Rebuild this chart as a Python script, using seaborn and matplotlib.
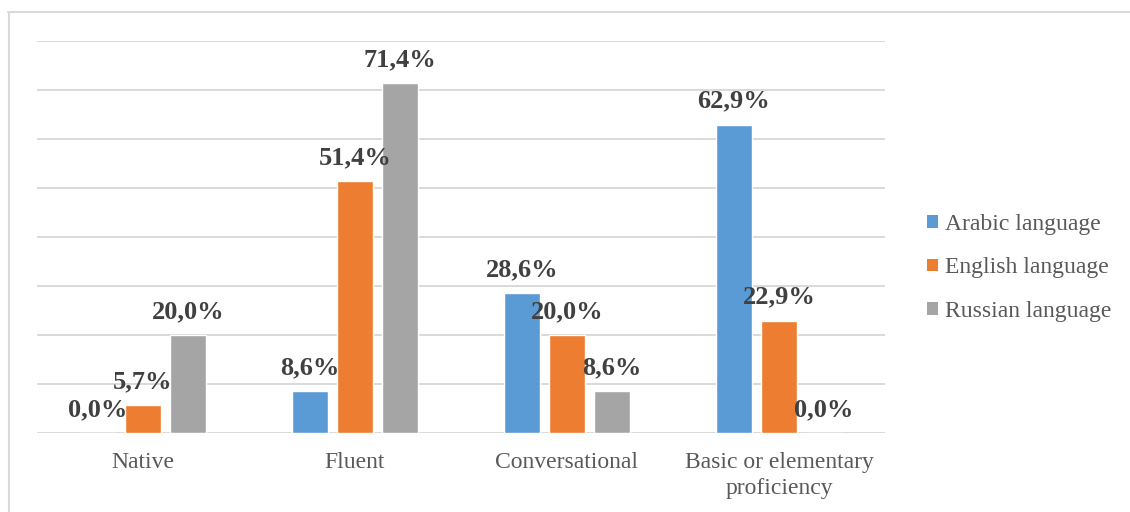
import matplotlib
matplotlib.use("Agg")
import matplotlib.pyplot as plt
from matplotlib.lines import Line2D
from matplotlib.patches import Patch
import seaborn as sns
import pandas as pd

# Proficiency levels and share of respondents (%) per language
levels = ["Native", "Fluent", "Conversational", "Basic or elementary\nproficiency"]
languages = ["Arabic language", "English language", "Russian language"]
arabic = [0.0, 8.6, 28.6, 62.9]
english = [5.7, 51.4, 20.0, 22.9]
russian = [20.0, 71.4, 8.6, 0.0]
colors = ["#5B9BD5", "#ED7D31", "#A5A5A5"]

series = {languages[0]: arabic, languages[1]: english, languages[2]: russian}
df = pd.DataFrame(
    [(lvl, lang, vals[i]) for lang, vals in series.items() for i, lvl in enumerate(levels)],
    columns=["level", "language", "share"],
)

sns.set_theme(style="white")
plt.rcParams["font.family"] = ["Liberation Serif", "DejaVu Serif"]

W, H = 1130, 512
fig = plt.figure(figsize=(W / 100, H / 100), dpi=100)
ax = fig.add_axes([37 / W, (H - 433) / H, 848 / W, 392 / H])

sns.barplot(
    data=df, x="level", y="share", hue="language", order=levels,
    hue_order=languages, palette=colors, width=0.637, gap=0.22,
    saturation=1, errorbar=None, legend=False, ax=ax,
)

ax.set_xlim(-0.5, len(levels) - 0.5)
ax.set_ylim(0, 80)
ax.set_yticks(range(0, 81, 10))
ax.yaxis.grid(True, color="#D9D9D9", linewidth=1.4)
ax.set_axisbelow(True)
for s in ax.spines.values():
    s.set_visible(False)
ax.set_yticklabels([])
ax.tick_params(axis="y", length=0)
ax.tick_params(axis="x", length=0, pad=14, labelsize=17, labelcolor="#595959")
for lbl in ax.get_xticklabels():
    lbl.set_linespacing(1.3)
ax.set_xlabel("")
ax.set_ylabel("")

# Value labels above each bar
for cont, lang in zip(ax.containers, languages):
    for bar, v in zip(cont, series[lang]):
        ax.annotate(
            f"{v:.1f}%".replace(".", ","),
            xy=(bar.get_x() + bar.get_width() / 2, v),
            xytext=(0, 17), textcoords="offset pixels",
            ha="center", va="baseline", fontsize=19, fontweight="bold",
            color="#404040",
        )

handles = [Patch(facecolor=c, edgecolor="none") for c in colors]
fig.legend(
    handles, languages, loc="center left",
    bbox_to_anchor=(927 / W, 1 - 268 / H), frameon=False,
    fontsize=17, labelcolor="#595959", handlelength=0.45, handleheight=0.45,
    handletextpad=0.3, labelspacing=0.95, borderaxespad=0, borderpad=0,
)

# Chart area frame (top and left edges)
frame_kw = dict(transform=fig.transFigure, color="#D9D9D9", linewidth=1.5)
fig.lines.append(Line2D([8 / W, 1.0], [1 - 12 / H] * 2, **frame_kw))
fig.lines.append(Line2D([8.5 / W] * 2, [0.0, 1 - 12 / H], **frame_kw))

fig.savefig("out.png", dpi=100, facecolor="white")
